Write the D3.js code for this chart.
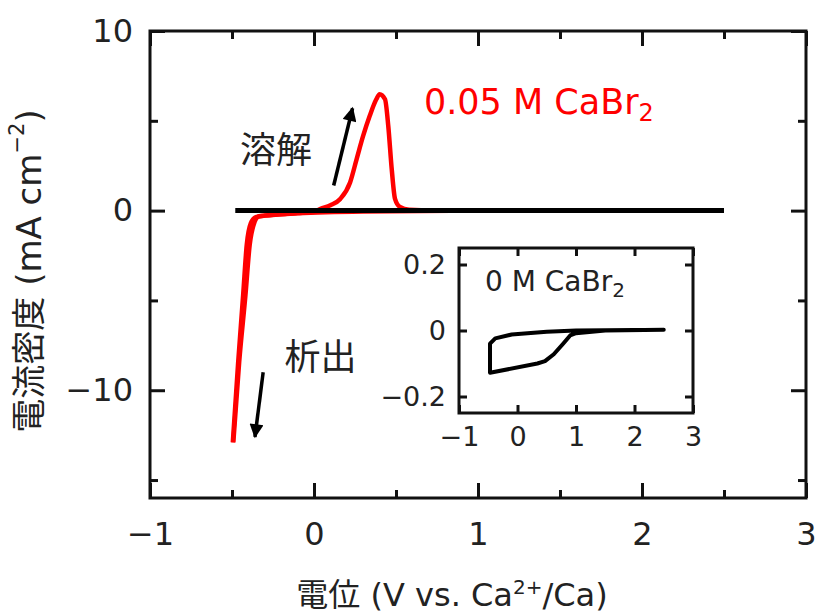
<!DOCTYPE html>
<html>
<head>
<meta charset="utf-8">
<script src="https://cdn.jsdelivr.net/npm/d3@7"></script>
<style>
  body { margin: 0; background: #fff; }
  svg text { font-family: "DejaVu Sans", "Noto Sans CJK JP", sans-serif; fill: #222; }
</style>
</head>
<body>
<svg id="chart" width="822" height="614"></svg>
<script>
// Main plot: 0.05 M CaBr2 CV (cathodic sweep then anodic sweep)
var redCathodic = [[-0.495, -12.9], [-0.462, -8.4], [-0.432, -4.7], [-0.41, -1.9], [-0.385, -0.7],
  [-0.355, -0.36], [-0.3, -0.28], [-0.1, -0.15], [0.3, -0.05], [1.0, -0.01], [2.5, 0]];
var redAnodic = [[-0.492, -12.9], [-0.456, -8.4], [-0.418, -4.7], [-0.392, -1.9], [-0.362, -0.62],
  [-0.338, -0.32], [-0.3, -0.27], [-0.1, -0.14], [0.0, -0.06], [0.04, 0.1], [0.1, 0.3],
  [0.16, 0.65], [0.22, 1.57], [0.26, 2.87], [0.3, 4.17], [0.34, 5.28], [0.38, 6.2], [0.40, 6.48],
  [0.433, 6.2], [0.453, 4.7], [0.474, 2.3], [0.494, 0.65], [0.524, 0.2], [0.58, 0.05],
  [0.8, 0], [2.5, 0]];
// 0 M CaBr2 on the main scale (practically zero)
var blackMain = [[-0.48, 0], [2.5, 0]];
// Inset: 0 M CaBr2 loop
var insetLoop = [[2.5, 0.002], [1.5, 0], [1.0, -0.008], [0.9, -0.015], [0.78, -0.04], [0.62, -0.072],
  [0.47, -0.093], [0.34, -0.1], [-0.47, -0.128], [-0.47, -0.04], [-0.38, -0.024], [-0.1, -0.012],
  [0.5, -0.004], [1.0, 0], [2.5, 0.002]];

var xMajor = [-1, 0, 1, 2, 3];
var xMinor = [-0.5, 0.5, 1.5, 2.5];
var yMajor = [10, 0, -10];
var yMinor = [5, -5, -15];
var insetXTicks = [-1, 0, 1, 2, 3];
var insetYTicks = [0.2, 0, -0.2];

var svg = d3.select("#chart");
var L = 150, R = 806, T = 31, B = 498;
var fmt = d3.format("~g");

var x = d3.scaleLinear().domain([-1, 3]).range([L, R]);
var y = d3.scaleLinear().domain([-16, 10]).range([B, T]);

function styleAxis(g) {
  g.select(".domain").remove();
  g.selectAll(".tick line").attr("stroke", "#111").attr("stroke-width", 3);
}

// major ticks with labels
svg.append("g").attr("transform", "translate(0," + B + ")")
  .call(d3.axisBottom(x).tickValues(xMajor).tickFormat(fmt).tickSize(-15).tickPadding(24))
  .call(styleAxis)
  .selectAll("text").attr("font-size", 32);
svg.append("g").attr("transform", "translate(" + L + ",0)")
  .call(d3.axisLeft(y).tickValues(yMajor).tickFormat(fmt).tickSize(-15).tickPadding(17))
  .call(styleAxis)
  .selectAll("text").attr("font-size", 32);
svg.append("g").attr("transform", "translate(0," + T + ")")
  .call(d3.axisTop(x).tickValues(xMajor).tickSize(-15).tickFormat(""))
  .call(styleAxis);
svg.append("g").attr("transform", "translate(" + R + ",0)")
  .call(d3.axisRight(y).tickValues(yMajor).tickSize(-15).tickFormat(""))
  .call(styleAxis);
// minor ticks
svg.append("g").attr("transform", "translate(0," + B + ")")
  .call(d3.axisBottom(x).tickValues(xMinor).tickSize(-8).tickFormat("")).call(styleAxis);
svg.append("g").attr("transform", "translate(0," + T + ")")
  .call(d3.axisTop(x).tickValues(xMinor).tickSize(-8).tickFormat("")).call(styleAxis);
svg.append("g").attr("transform", "translate(" + L + ",0)")
  .call(d3.axisLeft(y).tickValues(yMinor).tickSize(-8).tickFormat("")).call(styleAxis);
svg.append("g").attr("transform", "translate(" + R + ",0)")
  .call(d3.axisRight(y).tickValues(yMinor).tickSize(-8).tickFormat("")).call(styleAxis);

svg.append("rect").attr("x", L).attr("y", T).attr("width", R - L).attr("height", B - T)
  .attr("fill", "none").attr("stroke", "#111").attr("stroke-width", 3);

var line = d3.line().x(d => x(d[0])).y(d => y(d[1])).curve(d3.curveMonotoneX);

svg.append("path").datum(redCathodic).attr("d", line)
  .attr("fill", "none").attr("stroke", "#ff0000").attr("stroke-width", 4.5);
svg.append("path").datum(redAnodic).attr("d", line)
  .attr("fill", "none").attr("stroke", "#ff0000").attr("stroke-width", 4.5);
svg.append("path").datum(blackMain).attr("d", line)
  .attr("fill", "none").attr("stroke", "#000").attr("stroke-width", 5);

// arrows
svg.append("defs").append("marker")
  .attr("id", "head").attr("markerUnits", "userSpaceOnUse")
  .attr("viewBox", "0 0 10 10").attr("refX", 9).attr("refY", 5)
  .attr("markerWidth", 17).attr("markerHeight", 14).attr("orient", "auto")
  .append("path").attr("d", "M0,0 L10,5 L0,10 Z").attr("fill", "#000");

var arrows = [
  { from: [0.12, 1.4], to: [0.235, 5.7] },
  { from: [-0.31, -9.0], to: [-0.36, -12.6] }
];
arrows.forEach(function (a) {
  svg.append("line")
    .attr("x1", x(a.from[0])).attr("y1", y(a.from[1]))
    .attr("x2", x(a.to[0])).attr("y2", y(a.to[1]))
    .attr("stroke", "#000").attr("stroke-width", 3.5)
    .attr("marker-end", "url(#head)");
});

svg.append("text").attr("x", x(-0.232)).attr("y", y(3.33))
  .attr("text-anchor", "middle").attr("dominant-baseline", "central")
  .attr("font-size", 36).text("溶解");
svg.append("text").attr("x", x(0.04)).attr("y", y(-8.2))
  .attr("text-anchor", "middle").attr("dominant-baseline", "central")
  .attr("font-size", 36).text("析出");

var redLabel = svg.append("text").attr("x", x(0.67)).attr("y", y(5.4))
  .attr("font-size", 35).style("fill", "#ff0000");
redLabel.append("tspan").text("0.05 M CaBr");
redLabel.append("tspan").attr("font-size", 24).attr("dy", 7).text("2");

// axis titles
var yTitle = svg.append("text")
  .attr("transform", "translate(29,271) rotate(-90)")
  .attr("text-anchor", "middle").attr("dominant-baseline", "central")
  .attr("font-size", 34);
yTitle.append("tspan").text("電流密度 (mA cm");
yTitle.append("tspan").attr("font-size", 21).attr("dy", -12).text("−2");
yTitle.append("tspan").attr("dy", 12).text(")");

var xTitle = svg.append("text").attr("x", 452).attr("y", 606)
  .attr("text-anchor", "middle").attr("font-size", 32);
xTitle.append("tspan").text("電位 (V vs. Ca");
xTitle.append("tspan").attr("font-size", 20).attr("dy", -12).text("2+");
xTitle.append("tspan").attr("dy", 12).text("/Ca)");

// inset
var iL = 459, iR = 693, iT = 248, iB = 413;
var xi = d3.scaleLinear().domain([-1, 3]).range([iL, iR]);
var yi = d3.scaleLinear().domain([-0.25, 0.25]).range([iB, iT]);

svg.append("rect").attr("x", iL).attr("y", iT).attr("width", iR - iL).attr("height", iB - iT)
  .attr("fill", "#fff").attr("stroke", "none");

svg.append("g").attr("transform", "translate(0," + iB + ")")
  .call(d3.axisBottom(xi).tickValues(insetXTicks).tickFormat(fmt).tickSize(-8).tickPadding(14))
  .call(styleAxis)
  .selectAll("text").attr("font-size", 27);
svg.append("g").attr("transform", "translate(" + iL + ",0)")
  .call(d3.axisLeft(yi).tickValues(insetYTicks).tickFormat(fmt).tickSize(-8).tickPadding(13))
  .call(styleAxis)
  .selectAll("text").attr("font-size", 27);
svg.append("g").attr("transform", "translate(0," + iT + ")")
  .call(d3.axisTop(xi).tickValues(insetXTicks).tickSize(-8).tickFormat("")).call(styleAxis);
svg.append("g").attr("transform", "translate(" + iR + ",0)")
  .call(d3.axisRight(yi).tickValues(insetYTicks).tickSize(-8).tickFormat("")).call(styleAxis);

svg.append("rect").attr("x", iL).attr("y", iT).attr("width", iR - iL).attr("height", iB - iT)
  .attr("fill", "none").attr("stroke", "#111").attr("stroke-width", 3);

svg.append("path").datum(insetLoop)
  .attr("d", d3.line().x(d => xi(d[0])).y(d => yi(d[1])))
  .attr("fill", "none").attr("stroke", "#000").attr("stroke-width", 4)
  .attr("stroke-linejoin", "round").attr("stroke-linecap", "round");

var insetLabel = svg.append("text").attr("x", 485).attr("y", 291).attr("font-size", 28);
insetLabel.append("tspan").text("0 M CaBr");
insetLabel.append("tspan").attr("font-size", 20).attr("dy", 6).text("2");
</script>
</body>
</html>
